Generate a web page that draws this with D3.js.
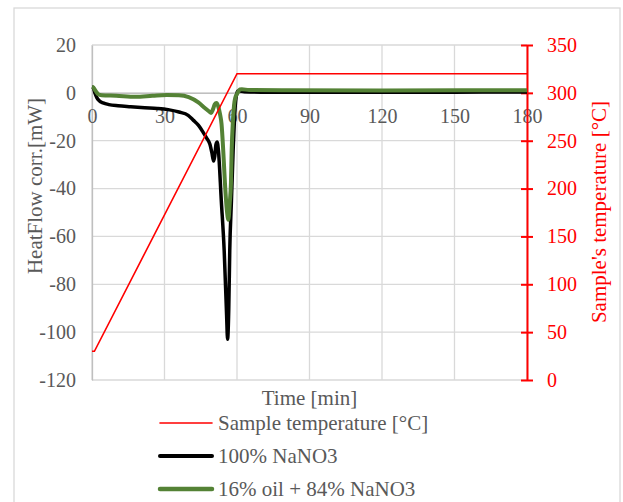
<!DOCTYPE html>
<html>
<head>
<meta charset="utf-8">
<script src="https://cdn.jsdelivr.net/npm/d3@7"></script>
<style>
  body { margin: 0; background: #fff; }
  svg text { font-family: "Liberation Serif", "Times New Roman", serif; }
  .grid line { stroke: #d9d9d9; stroke-width: 1.3; }
</style>
</head>
<body>
<div id="chart"></div>
<script>

// time [min] / heat flow [mW] for the pure salt
var timeBlack = [0, 0.5, 1.2, 2, 3, 4.6, 7, 10.8, 16, 21.8, 27, 31.5, 36, 39.8, 42, 44, 46, 47.5, 48.8, 49.6, 50.3, 50.8, 51.3, 51.8, 52.3, 53.5, 54.7, 55.7, 56.1, 56.6, 57, 57.7, 58.4, 59, 59.6, 60.3, 61, 63, 70, 90, 120, 150, 180];
var hfBlack   = [2.5, 2.2, 0, -2, -3.3, -4.2, -4.9, -5.4, -5.8, -6.2, -6.5, -7, -8, -9.4, -11.5, -13.5, -16.5, -19, -21.5, -25, -28.5, -26.5, -21.5, -20.5, -24, -45, -66, -93, -103, -90, -66, -45, -24, -10, -2, 0.8, 0.8, 0.5, 0.3, 0.3, 0.3, 0.3, 0.4];

// oil + salt mixture
var timeGreen = [0, 0.5, 1.5, 2.5, 4, 10, 18, 25, 31, 36, 40, 44, 46.7, 48.5, 49.3, 50, 50.8, 51.5, 52.2, 53, 53.6, 54.3, 55, 55.8, 56.4, 57, 57.5, 57.8, 58.3, 58.8, 59.3, 60, 60.6, 61.2, 62, 65, 80, 120, 180];
var hfGreen   = [2.5, 2.3, 0.8, -0.5, -1.0, -1.2, -1.6, -1.2, -0.9, -1.0, -1.8, -4, -6.3, -7.8, -8.4, -7, -4.8, -4.2, -5.5, -9, -13, -24, -37.5, -49, -53, -46, -37.5, -24, -12, -5, -2, -0.5, 0.6, 1.4, 1.5, 1.2, 1.1, 1.0, 1.1];

// sample temperature [°C]
var timeTemp = [0, 1, 60, 180];
var tempVals = [30, 30, 320, 320];

var xTicks = [0, 30, 60, 90, 120, 150, 180];
var hfTicks = [20, 0, -20, -40, -60, -80, -100, -120];
var tempTicks = [0, 50, 100, 150, 200, 250, 300, 350];

var legendLabels = ["Sample temperature [°C]", "100% NaNO3", "16% oil + 84% NaNO3"];

var width = 623, height = 502;
var plotL = 92, plotR = 527, plotT = 45, plotB = 380;
var grey = "#595959", green = "#548235";

var svg = d3.select("#chart").append("svg")
  .attr("width", width)
  .attr("height", height);

// outer chart border
svg.append("rect")
  .attr("x", 14).attr("y", 8)
  .attr("width", 606).attr("height", 520)
  .attr("fill", "none")
  .attr("stroke", "#d9d9d9")
  .attr("stroke-width", 1.3);

var x = d3.scaleLinear().domain([0, 180]).range([plotL, plotR]);
var y = d3.scaleLinear().domain([-120, 20]).range([plotB, plotT]);
var y2 = d3.scaleLinear().domain([0, 350]).range([plotB, plotT]);

// gridlines
svg.append("g").attr("class", "grid")
  .selectAll("line").data(hfTicks).enter().append("line")
  .attr("x1", plotL).attr("x2", plotR)
  .attr("y1", function (d) { return y(d); })
  .attr("y2", function (d) { return y(d); });

svg.append("g").attr("class", "grid")
  .selectAll("line").data(xTicks).enter().append("line")
  .attr("x1", function (d) { return x(d); })
  .attr("x2", function (d) { return x(d); })
  .attr("y1", plotT).attr("y2", plotB);

// left axis
var yAxis = svg.append("g")
  .attr("transform", "translate(" + plotL + ",0)")
  .call(d3.axisLeft(y).tickValues(hfTicks).tickSize(0).tickPadding(16));
yAxis.select(".domain").attr("stroke", "#bfbfbf").attr("stroke-width", 1.3);
yAxis.selectAll("text")
  .attr("fill", grey)
  .style("font-size", "20px")
  .text(function (d) { return d < 0 ? "-" + Math.abs(d) : d; });

// x axis sits on the zero line
var xAxis = svg.append("g")
  .attr("transform", "translate(0," + y(0) + ")")
  .call(d3.axisBottom(x).tickValues(xTicks).tickSize(0).tickPadding(16));
xAxis.select(".domain").attr("stroke", "#bfbfbf").attr("stroke-width", 1.3);
xAxis.selectAll("text").attr("fill", grey).style("font-size", "20px");

// right axis (temperature)
var y2Axis = svg.append("g")
  .attr("transform", "translate(" + plotR + ",0)")
  .call(d3.axisRight(y2).tickValues(tempTicks).tickSizeInner(6).tickSizeOuter(0).tickPadding(14));
y2Axis.select(".domain").attr("stroke", "#ff0000").attr("stroke-width", 2);
y2Axis.selectAll(".tick line").attr("stroke", "#ff0000").attr("stroke-width", 2)
  .attr("x1", -6).attr("x2", 6);
y2Axis.selectAll("text").attr("fill", "#ff0000").style("font-size", "20px");

// series
var line = d3.line().curve(d3.curveMonotoneX);

svg.append("path")
  .attr("d", line(timeBlack.map(function (t, i) { return [x(t), y(hfBlack[i])]; })))
  .attr("fill", "none").attr("stroke", "#000").attr("stroke-width", 3.5)
  .attr("stroke-linejoin", "round");

svg.append("path")
  .attr("d", line(timeGreen.map(function (t, i) { return [x(t), y(hfGreen[i])]; })))
  .attr("fill", "none").attr("stroke", green).attr("stroke-width", 4)
  .attr("stroke-linejoin", "round");

svg.append("path")
  .attr("d", d3.line()(timeTemp.map(function (t, i) { return [x(t), y2(tempVals[i])]; })))
  .attr("fill", "none").attr("stroke", "#ff0000").attr("stroke-width", 1.6);

// axis titles
svg.append("text")
  .attr("x", (plotL + plotR) / 2).attr("y", 405)
  .attr("text-anchor", "middle")
  .attr("fill", grey).style("font-size", "21px")
  .text("Time [min]");

svg.append("text")
  .attr("transform", "translate(42,186) rotate(-90)")
  .attr("text-anchor", "middle")
  .attr("fill", grey).style("font-size", "21px")
  .text("HeatFlow corr.[mW]");

svg.append("text")
  .attr("transform", "translate(606,212) rotate(-90)")
  .attr("text-anchor", "middle")
  .attr("fill", "#ff0000").style("font-size", "21px")
  .text("Sample's temperature [°C]");

// legend
var legendColors = ["#ff0000", "#000", green];
var legendWidths = [1.6, 4, 4.5];
var legend = svg.append("g").selectAll("g")
  .data(legendLabels).enter().append("g")
  .attr("transform", function (d, i) { return "translate(0," + (423 + i * 33) + ")"; });

legend.append("line")
  .attr("x1", 160).attr("x2", 212)
  .attr("stroke", function (d, i) { return legendColors[i]; })
  .attr("stroke-width", function (d, i) { return legendWidths[i]; })
  .attr("stroke-linecap", "round");

legend.append("text")
  .attr("x", 218).attr("dy", "0.35em")
  .attr("fill", grey).style("font-size", "21px")
  .text(function (d) { return d; });

</script>
</body>
</html>
